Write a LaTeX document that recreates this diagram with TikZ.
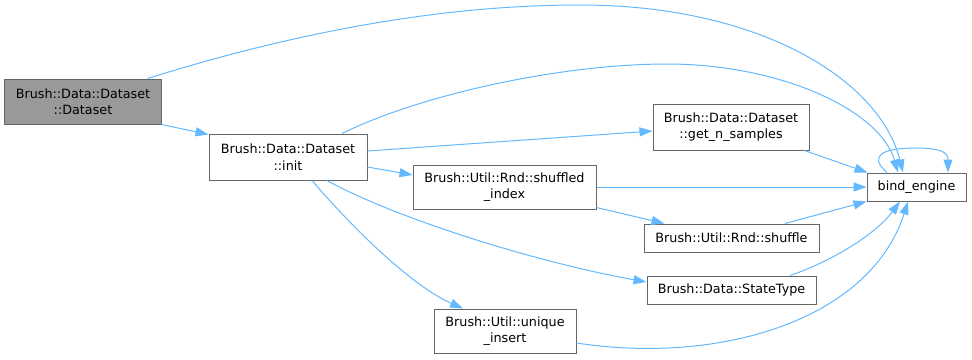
\documentclass[tikz,border=0pt]{standalone}
\usepackage{fontspec}
\setmainfont{DejaVu Sans}
\usetikzlibrary{arrows.meta}
\definecolor{edgeblue}{HTML}{63B8FF}
\definecolor{boxline}{HTML}{666666}
\definecolor{rootfill}{HTML}{999999}
\begin{document}
\begin{tikzpicture}[x=1bp,y=-1bp,
  fn/.style={draw=boxline,fill=white,line width=1bp,inner sep=0pt,align=center,
    font=\fontsize{12.8}{16.5}\selectfont,text=black},
  root/.style={fn,fill=rootfill},
  call/.style={draw=edgeblue,line width=1bp,-{Triangle[length=13bp,width=9bp]},fill=none},
]
\useasboundingbox (0,0) rectangle (972,359);

% functions
\node[root,minimum width=156bp,minimum height=45bp] (ds) at (83,101.5) {Brush::Data::Dataset\\::Dataset};
\node[fn,minimum width=158bp,minimum height=46bp] (init) at (288,157) {Brush::Data::Dataset\\::init};
\node[fn,minimum width=156bp,minimum height=46bp] (gns) at (731,127) {Brush::Data::Dataset\\::get\_n\_samples};
\node[fn,minimum width=183bp,minimum height=44bp] (si) at (504.5,187) {Brush::Util::Rnd::shuffled\\\_index};
\node[fn,minimum width=175bp,minimum height=28bp] (sh) at (731.5,238) {Brush::Util::Rnd::shuffle};
\node[fn,minimum width=169bp,minimum height=28bp] (st) at (731.5,290) {Brush::Data::StateType};
\node[fn,minimum width=142bp,minimum height=44bp] (ui) at (505,331) {Brush::Util::unique\\\_insert};
\node[fn,minimum width=99bp,minimum height=28bp] (be) at (916.5,187) {bind\_engine};

% calls
\draw[call] ([xshift=-14bp]ds.north east) .. controls (280,37) and (430,5) .. (580,5)
  .. controls (760,5) and (880,80) .. ([xshift=-13.5bp]be.north);
\draw[call] (ds.south east) -- ([yshift=-1bp]init.north west);
\draw[call] ([xshift=54bp]init.north) .. controls (420,95) and (560,64) .. (667,64)
  .. controls (780,64) and (880,110) .. ([xshift=-18.5bp]be.north);
\draw[call] ([yshift=6bp]init.east) -- ([yshift=-4bp]gns.west);
\draw[call] ([yshift=-10bp]init.east) -- ([yshift=12bp]si.west);
\draw[call] ([xshift=39bp]init.south) .. controls (395,218) and (535,262) .. ([yshift=8bp]st.west);
\draw[call] ([xshift=24bp]init.south) .. controls (350,225) and (410,285) .. ([xshift=-42bp]ui.north);
\draw[call] ([xshift=-5bp]gns.south east) -- ([xshift=1bp]be.north west);
\draw[call] (si.east) -- (be.west);
\draw[call] ([yshift=2bp]si.south east) -- ([xshift=21bp]sh.north west);
\draw[call] ([xshift=53.5bp]sh.north) -- (be.south west);
\draw[call] ([xshift=58.5bp]st.north) .. controls (830,262) and (875,235) .. ([xshift=-16.5bp]be.south);
\draw[call] ([yshift=-12bp]ui.east) .. controls (720,365) and (870,320) .. ([xshift=-8.5bp]be.south);
\draw[call] ([xshift=-29.5bp]be.north) .. controls (868,156) and (882,148) .. (915,148)
  .. controls (940,148) and (948,152) .. ([xshift=31.5bp]be.north);
\end{tikzpicture}
\end{document}
